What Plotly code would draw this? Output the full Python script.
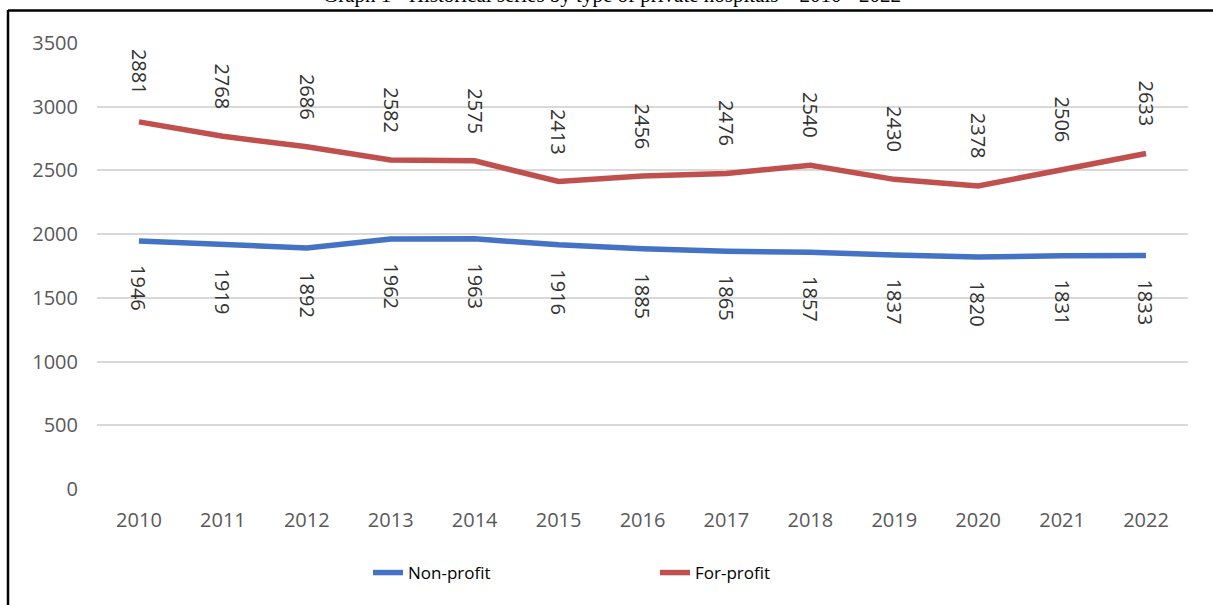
import plotly.graph_objects as go

years = ["2010", "2011", "2012", "2013", "2014", "2015", "2016", "2017", "2018", "2019", "2020", "2021", "2022"]
non_profit = [1946, 1919, 1892, 1962, 1963, 1916, 1885, 1865, 1857, 1837, 1820, 1831, 1833]
for_profit = [2881, 2768, 2686, 2582, 2575, 2413, 2456, 2476, 2540, 2430, 2378, 2506, 2633]
y_ticks = [0, 500, 1000, 1500, 2000, 2500, 3000, 3500]
title_text = "Graph 1 - Historical series by type of private hospitals \u2013 2010 - 2022"

BLUE = "#4472C4"
RED = "#C0504D"
FONT = "Open Sans"

fig = go.Figure()
fig.add_trace(go.Scatter(x=years, y=non_profit, mode="lines", name="Non-profit",
                         line=dict(color=BLUE, width=5.5)))
fig.add_trace(go.Scatter(x=years, y=for_profit, mode="lines", name="For-profit",
                         line=dict(color=RED, width=5.5)))

annotations = []
# category axes take the category index for annotation positions
for i, v in enumerate(for_profit):
    annotations.append(dict(x=i, y=v, xref="x", yref="y", text=str(v), showarrow=False,
                            textangle=90, yshift=50,
                            font=dict(family=FONT, size=20, color="#333333")))
for i, v in enumerate(non_profit):
    annotations.append(dict(x=i, y=v, xref="x", yref="y", text=str(v), showarrow=False,
                            textangle=90, yshift=-47,
                            font=dict(family=FONT, size=20, color="#333333")))

W, H = 1213, 605
L, R, T, B = 97, 25, 43, 116
pw, ph = W - L - R, H - T - B

def px_x(px):
    return (px - L) / pw

def px_y(py):
    return (H - B - py) / ph

annotations.append(dict(x=px_x(612), y=px_y(9), xref="paper", yref="paper", text=title_text,
                        showarrow=False, xanchor="center", yanchor="bottom",
                        font=dict(family="Liberation Serif", size=21, color="#000000")))

shapes = [
    dict(type="line", xref="paper", yref="paper", x0=px_x(8), x1=px_x(1213), y0=px_y(10.5), y1=px_y(10.5),
         line=dict(color="black", width=2.5)),
    dict(type="line", xref="paper", yref="paper", x0=px_x(8), x1=px_x(8), y0=px_y(10), y1=px_y(620),
         line=dict(color="black", width=2.5)),
]

fig.update_layout(
    width=W, height=H,
    margin=dict(l=L, r=R, t=T, b=B, pad=0),
    paper_bgcolor="white", plot_bgcolor="white",
    font=dict(family=FONT, color="#595959"),
    showlegend=True,
    legend=dict(orientation="h", x=px_x(368), y=px_y(573), xanchor="left", yanchor="middle",
                font=dict(family=FONT, size=17, color="#000000"),
                entrywidth=242, entrywidthmode="pixels", bgcolor="rgba(0,0,0,0)"),
    xaxis=dict(type="category", range=[-0.5, 12.5], showgrid=False, showline=False, zeroline=False,
               ticks="", tickfont=dict(family=FONT, size=20, color="#595959"), ticklabelstandoff=17,
               fixedrange=True),
    yaxis=dict(range=[0, 3500], tickvals=y_ticks, showgrid=True, gridcolor="#D9D9D9", gridwidth=1.5,
               zeroline=False, showline=False, ticks="",
               tickfont=dict(family=FONT, size=20, color="#595959"), ticklabelstandoff=18,
               fixedrange=True),
    annotations=annotations,
    shapes=shapes,
)

fig.write_html("out.html", config={"displayModeBar": False},
               post_script="document.body.style.margin='0';document.body.style.overflow='hidden';")
